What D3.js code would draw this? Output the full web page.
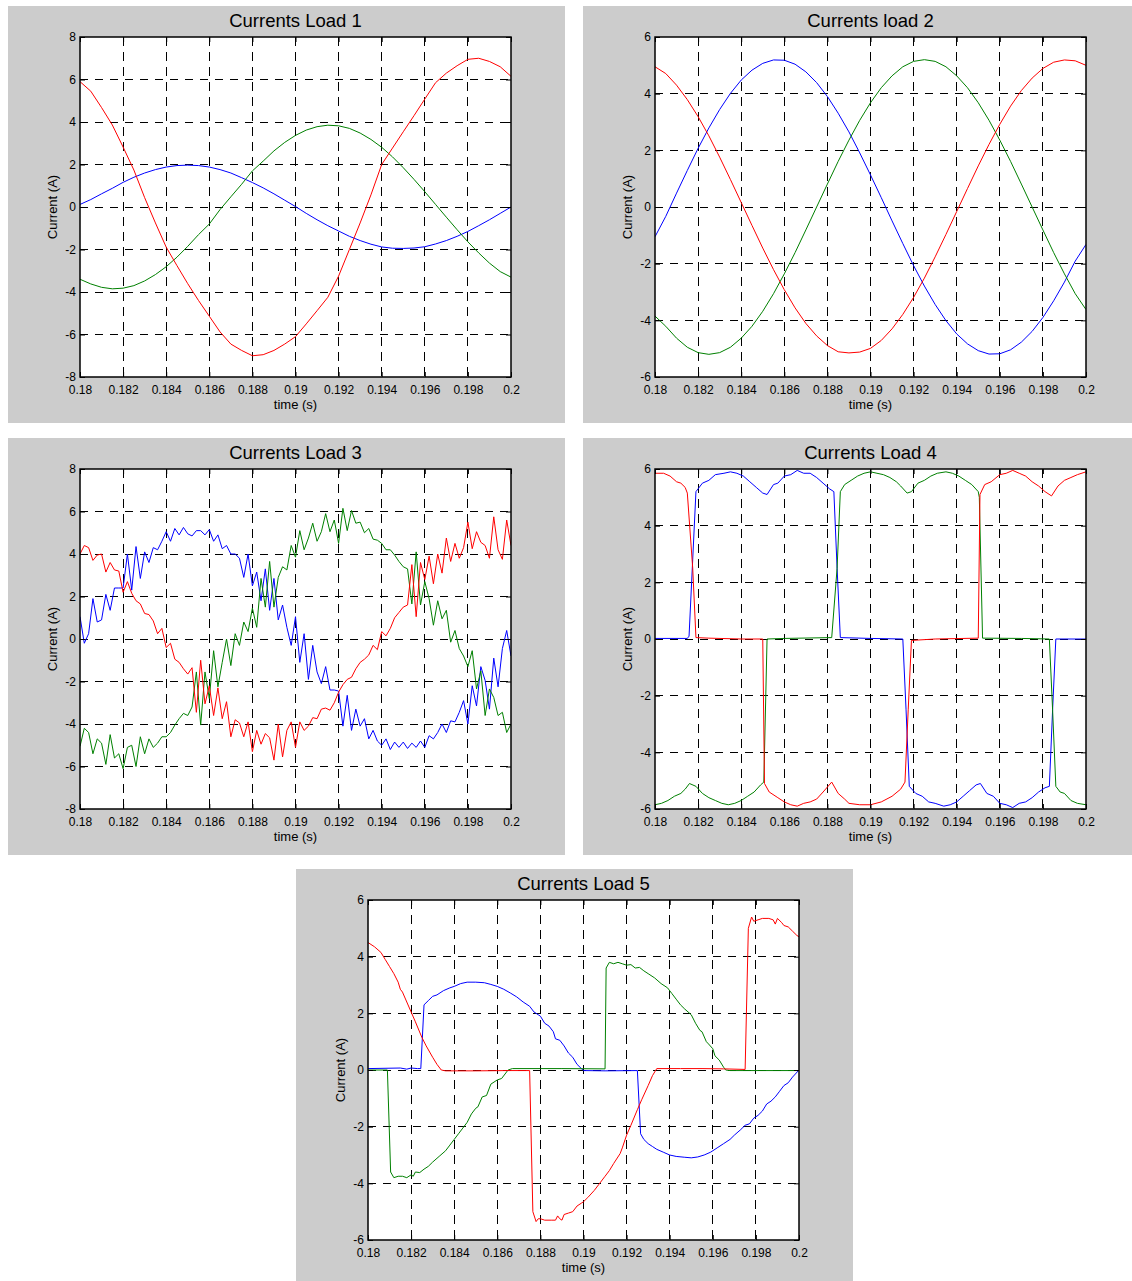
<!DOCTYPE html>
<html>
<head>
<meta charset="utf-8">
<script src="https://cdn.jsdelivr.net/npm/d3@7"></script>
<style>
  html, body { margin: 0; padding: 0; background: #fff; }
  svg { display: block; }
</style>
</head>
<body>
<svg id="fig" width="1132" height="1281"></svg>
<script>
// ---- axis ticks ----
const timeTicks = [0.18, 0.182, 0.184, 0.186, 0.188, 0.19, 0.192, 0.194, 0.196, 0.198, 0.2];
const timeTickLabels = ["0.18", "0.182", "0.184", "0.186", "0.188", "0.19", "0.192", "0.194", "0.196", "0.198", "0.2"];
const currentTicks8 = [-8, -6, -4, -2, 0, 2, 4, 6, 8];
const currentTickLabels8 = ["-8", "-6", "-4", "-2", "0", "2", "4", "6", "8"];
const currentTicks6 = [-6, -4, -2, 0, 2, 4, 6];
const currentTickLabels6 = ["-6", "-4", "-2", "0", "2", "4", "6"];

// sample instants: 0.5 ms grid for loads 1-2, 0.2 ms grid for load 3
const coarseTimes = d3.range(41).map(i => 0.18 + i * 0.0005);
const fineTimes = d3.range(101).map(i => 0.18 + i * 0.0002);

// ---- Load 1 phase currents (A), 0.5 ms grid ----
const load1Blue = [0.12, 0.35, 0.62, 0.88, 1.16, 1.40, 1.60, 1.76, 1.88, 1.95, 1.97, 1.95, 1.88, 1.76, 1.60, 1.38, 1.15, 0.90, 0.62, 0.32, 0.02, -0.30, -0.60, -0.88, -1.13, -1.38, -1.58, -1.75, -1.88, -1.94, -1.95, -1.93, -1.87, -1.74, -1.58, -1.38, -1.15, -0.88, -0.60, -0.30, 0.0];
const load1Green = [-3.40, -3.62, -3.78, -3.85, -3.82, -3.70, -3.48, -3.18, -2.81, -2.36, -1.85, -1.30, -0.80, -0.12, 0.48, 1.07, 1.70, 2.16, 2.64, 3.04, 3.37, 3.62, 3.78, 3.85, 3.82, 3.70, 3.48, 3.18, 2.81, 2.36, 1.85, 1.30, 0.72, 0.12, -0.48, -1.07, -1.64, -2.16, -2.64, -3.04, -3.30];
const load1Red = [5.90, 5.45, 4.68, 3.86, 2.82, 1.74, 0.44, -0.75, -1.89, -2.76, -3.61, -4.40, -5.14, -5.88, -6.45, -6.75, -7.00, -6.95, -6.75, -6.45, -6.10, -5.50, -4.88, -4.25, -3.25, -2.00, -0.75, 0.57, 2.00, 2.77, 3.54, 4.30, 5.08, 5.85, 6.30, 6.65, 6.95, 7.00, 6.85, 6.60, 6.15];

// ---- Load 2 phase currents (A), 0.5 ms grid ----
const load2Blue = [-1.05, -0.33, 0.49, 1.29, 2.07, 2.79, 3.44, 4.01, 4.48, 4.83, 5.07, 5.19, 5.18, 5.04, 4.77, 4.39, 3.90, 3.31, 2.65, 1.91, 1.13, 0.33, -0.49, -1.29, -2.07, -2.79, -3.44, -4.01, -4.48, -4.83, -5.07, -5.19, -5.18, -5.04, -4.77, -4.39, -3.90, -3.31, -2.65, -1.91, -1.32];
const load2Green = [-3.85, -4.21, -4.63, -4.95, -5.14, -5.20, -5.14, -4.95, -4.63, -4.21, -3.68, -3.06, -2.36, -1.61, -0.81, 0.0, 0.81, 1.61, 2.36, 3.06, 3.68, 4.21, 4.63, 4.95, 5.14, 5.20, 5.14, 4.95, 4.63, 4.21, 3.68, 3.06, 2.36, 1.61, 0.81, 0.0, -0.81, -1.61, -2.36, -3.06, -3.62];
const load2Red = [4.95, 4.71, 4.30, 3.79, 3.19, 2.51, 1.76, 0.97, 0.16, -0.65, -1.45, -2.21, -2.92, -3.56, -4.11, -4.55, -4.89, -5.11, -5.15, -5.12, -4.99, -4.71, -4.30, -3.79, -3.19, -2.51, -1.76, -0.97, -0.16, 0.65, 1.45, 2.21, 2.92, 3.56, 4.11, 4.55, 4.89, 5.11, 5.19, 5.16, 5.00];

// ---- Load 3 phase currents (A), 0.2 ms grid ----
const load3Blue = [1.05, -0.2, 0.25, 1.9, 0.8, 0.9, 2.1, 1.35, 2.4, 2.4, 2.4, 4.0, 2.3, 4.35, 2.85, 4.1, 3.6, 4.3, 4.2, 4.6, 5.05, 4.6, 5.2, 4.9, 5.25, 4.95, 4.85, 5.1, 5.1, 4.9, 5.15, 4.6, 4.9, 4.25, 4.4, 4.0, 4.0, 3.8, 2.9, 4.0, 2.5, 3.15, 1.8, 3.3, 1.35, 2.85, 0.9, 1.6, 0.55, -0.3, 1.05, -1.1, 0.25, -1.9, -0.3, -1.55, -2.1, -1.3, -2.4, -2.4, -2.45, -4.1, -2.65, -4.3, -3.3, -4.1, -3.75, -4.7, -4.3, -4.8, -5.0, -4.7, -5.2, -4.85, -5.1, -4.85, -5.15, -4.9, -5.1, -4.8, -5.1, -4.55, -4.7, -4.4, -4.0, -4.4, -3.85, -3.9, -3.45, -2.9, -4.0, -2.2, -3.15, -1.3, -1.95, -3.3, -0.9, -2.25, -0.45, 0.4, -0.8];
const load3Green = [-5.05, -4.2, -4.4, -5.4, -4.7, -4.9, -5.9, -4.5, -5.6, -5.4, -6.1, -5.1, -5.0, -6.0, -4.6, -5.4, -4.7, -5.1, -4.9, -4.6, -4.6, -4.4, -4.05, -3.75, -3.5, -3.6, -3.2, -1.55, -4.05, -1.55, -2.8, -0.55, -2.25, -1.1, 0.0, -1.25, 0.25, -0.3, 0.8, 0.35, 1.45, 0.55, 2.85, 1.5, 3.65, 1.5, 2.9, 3.4, 3.25, 4.4, 3.85, 5.1, 4.2, 4.75, 5.45, 4.6, 5.05, 5.9, 5.05, 5.6, 4.5, 6.15, 5.1, 6.05, 5.45, 5.5, 5.0, 5.2, 4.7, 4.65, 4.5, 4.2, 4.2, 3.95, 3.65, 3.4, 3.3, 1.65, 4.1, 1.6, 2.7, 1.9, 0.65, 1.8, 0.95, 1.35, -0.15, 0.4, -0.45, -0.8, -1.3, -0.55, -2.35, -1.5, -3.6, -2.35, -2.75, -3.6, -3.45, -4.4, -4.0];
const load3Red = [4.0, 4.4, 4.3, 3.7, 3.95, 4.0, 3.15, 3.6, 3.25, 3.2, 2.2, 2.7, 2.15, 1.8, 1.65, 1.2, 1.15, 0.85, 0.25, 0.5, -0.4, -0.2, -0.95, -1.1, -1.4, -1.65, -1.35, -3.45, -1.0, -3.05, -2.2, -3.6, -2.3, -3.75, -2.95, -4.6, -3.8, -3.95, -4.6, -3.9, -5.3, -4.3, -4.95, -4.45, -4.65, -5.7, -4.0, -5.55, -4.3, -3.9, -5.1, -3.9, -4.3, -4.1, -3.7, -3.75, -3.3, -3.25, -3.35, -3.0, -2.5, -2.15, -1.9, -1.8, -1.4, -1.1, -0.95, -0.75, -0.3, -0.5, 0.35, 0.15, 0.5, 1.0, 1.25, 1.5, 1.6, 3.5, 1.05, 3.6, 2.8, 3.9, 2.6, 4.0, 3.1, 4.75, 3.65, 4.5, 3.8, 4.3, 5.5, 4.25, 5.05, 4.55, 4.4, 3.8, 5.75, 4.2, 3.75, 5.6, 4.4];

// ---- Load 4 phase currents, [time (s), current (A)] ----
const load4Blue = [[0.18, 0.02], [0.1815, 0.02], [0.18158, 0.1], [0.1819, 5.2], [0.1822, 5.5], [0.1825, 5.6], [0.1828, 5.8], [0.1832, 5.85], [0.1835, 5.9], [0.1838, 5.85], [0.1841, 5.75], [0.1844, 5.55], [0.1847, 5.35], [0.185, 5.15], [0.1852, 5.1], [0.1855, 5.45], [0.1857, 5.5], [0.186, 5.75], [0.1863, 5.8], [0.1866, 5.95], [0.1869, 5.85], [0.1872, 5.85], [0.1875, 5.7], [0.1878, 5.5], [0.1881, 5.3], [0.1883, 5.2], [0.18845, 2.5], [0.1886, 0.05], [0.19, 0.02], [0.1915, 0.0], [0.19165, -2.5], [0.1918, -5.2], [0.1921, -5.45], [0.1924, -5.55], [0.1927, -5.75], [0.193, -5.8], [0.1934, -5.9], [0.1937, -5.85], [0.194, -5.75], [0.1943, -5.55], [0.1946, -5.35], [0.1949, -5.15], [0.1951, -5.1], [0.1954, -5.45], [0.1957, -5.55], [0.196, -5.8], [0.1963, -5.85], [0.1966, -5.95], [0.1969, -5.8], [0.1972, -5.75], [0.1975, -5.6], [0.1978, -5.4], [0.1981, -5.25], [0.1983, -5.2], [0.19845, -2.5], [0.1986, 0.0], [0.2, 0.0]];
const load4Green = [[0.18, -5.85], [0.1803, -5.8], [0.1806, -5.7], [0.1809, -5.55], [0.1812, -5.45], [0.1814, -5.3], [0.1816, -5.1], [0.1819, -5.2], [0.1822, -5.45], [0.1825, -5.6], [0.1828, -5.7], [0.1831, -5.8], [0.1834, -5.85], [0.1837, -5.8], [0.184, -5.7], [0.1843, -5.55], [0.1846, -5.4], [0.1849, -5.15], [0.18505, -5.05], [0.1852, 0.0], [0.186, 0.02], [0.1882, 0.05], [0.18845, 2.5], [0.1886, 5.2], [0.1888, 5.45], [0.1891, 5.6], [0.1894, 5.75], [0.1897, 5.85], [0.19, 5.9], [0.1903, 5.85], [0.1906, 5.8], [0.1909, 5.7], [0.1912, 5.55], [0.1914, 5.4], [0.1917, 5.15], [0.1919, 5.2], [0.1922, 5.5], [0.1925, 5.6], [0.1928, 5.75], [0.1931, 5.85], [0.1935, 5.9], [0.1938, 5.85], [0.1941, 5.75], [0.1944, 5.6], [0.1947, 5.45], [0.195, 5.2], [0.19505, 5.0], [0.1952, 0.03], [0.197, 0.02], [0.1983, 0.0], [0.19845, -2.5], [0.1986, -5.2], [0.1988, -5.4], [0.199, -5.45], [0.1993, -5.7], [0.1996, -5.8], [0.2, -5.85]];
const load4Red = [[0.18, 5.85], [0.1804, 5.85], [0.1807, 5.75], [0.181, 5.55], [0.1812, 5.5], [0.1814, 5.35], [0.1815, 5.15], [0.18175, 2.5], [0.1819, 0.05], [0.1825, 0.03], [0.184, 0.0], [0.185, 0.0], [0.18508, -5.1], [0.1853, -5.4], [0.1857, -5.6], [0.186, -5.75], [0.1863, -5.85], [0.1866, -5.9], [0.1869, -5.8], [0.1872, -5.75], [0.1875, -5.65], [0.1878, -5.4], [0.1882, -5.05], [0.1885, -5.45], [0.1888, -5.65], [0.189, -5.8], [0.1895, -5.85], [0.19, -5.85], [0.1905, -5.75], [0.191, -5.55], [0.1914, -5.3], [0.1916, -5.05], [0.19175, -2.5], [0.1919, -0.05], [0.193, 0.0], [0.195, 0.03], [0.19508, 5.1], [0.1953, 5.45], [0.1956, 5.55], [0.196, 5.8], [0.1963, 5.85], [0.1966, 5.95], [0.1969, 5.85], [0.1972, 5.75], [0.1975, 5.55], [0.1978, 5.4], [0.1981, 5.2], [0.1984, 5.05], [0.1987, 5.4], [0.199, 5.6], [0.1993, 5.7], [0.1996, 5.8], [0.2, 5.9]];

// ---- Load 5 phase currents, [time (s), current (A)] ----
const load5Blue = [[0.18, 0.05], [0.1815, 0.07], [0.1818, 0.03], [0.182, 0.07], [0.1823, 0.05], [0.18245, 0.05], [0.1826, 2.3], [0.1828, 2.45], [0.183, 2.6], [0.1832, 2.65], [0.1835, 2.8], [0.1838, 2.9], [0.184, 2.95], [0.1843, 3.05], [0.1846, 3.1], [0.185, 3.1], [0.1854, 3.08], [0.1857, 3.02], [0.186, 2.95], [0.1863, 2.85], [0.1866, 2.72], [0.1869, 2.58], [0.1872, 2.4], [0.1875, 2.25], [0.1877, 2.05], [0.1879, 1.95], [0.188, 1.9], [0.1882, 1.65], [0.1884, 1.55], [0.1886, 1.35], [0.1887, 1.1], [0.1889, 1.05], [0.1891, 0.85], [0.1893, 0.6], [0.1895, 0.45], [0.1897, 0.2], [0.1899, 0.05], [0.19, -0.02], [0.191, -0.03], [0.1925, -0.02], [0.19265, -2.25], [0.1928, -2.45], [0.193, -2.6], [0.1932, -2.7], [0.1934, -2.8], [0.1937, -2.9], [0.194, -3.0], [0.1943, -3.05], [0.1947, -3.08], [0.195, -3.1], [0.1953, -3.07], [0.1956, -3.0], [0.1959, -2.9], [0.1962, -2.75], [0.1965, -2.6], [0.1968, -2.45], [0.197, -2.3], [0.1973, -2.1], [0.1975, -1.95], [0.1977, -1.9], [0.1979, -1.7], [0.1981, -1.6], [0.1983, -1.45], [0.1985, -1.2], [0.1987, -1.1], [0.1989, -0.95], [0.1991, -0.75], [0.1993, -0.55], [0.1995, -0.45], [0.1997, -0.25], [0.2, 0.0]];
const load5Green = [[0.18, 0.0], [0.1809, 0.0], [0.18105, -3.6], [0.1812, -3.8], [0.1814, -3.75], [0.1816, -3.75], [0.1818, -3.8], [0.182, -3.7], [0.1821, -3.75], [0.1822, -3.6], [0.1824, -3.62], [0.1826, -3.5], [0.1828, -3.4], [0.183, -3.25], [0.1833, -3.05], [0.1836, -2.85], [0.1838, -2.65], [0.184, -2.45], [0.1842, -2.25], [0.1844, -2.05], [0.1846, -1.85], [0.1848, -1.55], [0.185, -1.35], [0.1851, -1.3], [0.1853, -0.95], [0.1855, -0.9], [0.1857, -0.5], [0.186, -0.35], [0.1862, -0.3], [0.1865, 0.0], [0.1867, 0.05], [0.188, 0.05], [0.189, 0.05], [0.191, 0.04], [0.19105, 3.6], [0.1912, 3.8], [0.1914, 3.75], [0.1916, 3.8], [0.1918, 3.75], [0.192, 3.7], [0.1922, 3.72], [0.1924, 3.6], [0.1926, 3.62], [0.1928, 3.5], [0.193, 3.4], [0.1933, 3.25], [0.1936, 3.05], [0.1939, 2.9], [0.1941, 2.7], [0.1943, 2.5], [0.1945, 2.3], [0.1947, 2.15], [0.195, 1.95], [0.1952, 1.65], [0.1954, 1.4], [0.1955, 1.35], [0.1957, 1.0], [0.1958, 0.92], [0.196, 0.75], [0.1961, 0.5], [0.1963, 0.35], [0.1965, 0.1], [0.1966, 0.0], [0.1968, -0.02], [0.198, -0.02], [0.2, -0.02]];
const load5Red = [[0.18, 4.5], [0.1803, 4.35], [0.1806, 4.15], [0.1808, 3.9], [0.181, 3.65], [0.1812, 3.4], [0.1814, 3.1], [0.1815, 2.85], [0.1816, 2.75], [0.1818, 2.4], [0.182, 2.05], [0.1822, 1.7], [0.1825, 1.15], [0.1827, 0.85], [0.183, 0.45], [0.1832, 0.2], [0.1834, 0.0], [0.1836, -0.03], [0.185, -0.03], [0.1865, -0.02], [0.1875, -0.02], [0.18765, -5.0], [0.1878, -5.35], [0.1879, -5.25], [0.188, -5.25], [0.1882, -5.3], [0.1885, -5.3], [0.1887, -5.3], [0.1888, -5.15], [0.1889, -5.25], [0.189, -5.3], [0.1891, -5.1], [0.1893, -5.05], [0.1895, -5.0], [0.1897, -4.8], [0.1899, -4.7], [0.19, -4.65], [0.1902, -4.5], [0.1905, -4.25], [0.1907, -4.05], [0.191, -3.75], [0.1912, -3.55], [0.1914, -3.3], [0.1917, -2.95], [0.1918, -2.75], [0.192, -2.3], [0.1922, -1.95], [0.1925, -1.4], [0.1927, -1.05], [0.193, -0.55], [0.1932, -0.2], [0.1934, 0.05], [0.1945, 0.05], [0.1955, 0.05], [0.1965, 0.04], [0.1975, 0.02], [0.19765, 5.0], [0.1978, 5.4], [0.1979, 5.25], [0.1981, 5.3], [0.1983, 5.35], [0.1986, 5.35], [0.1988, 5.3], [0.1989, 5.15], [0.199, 5.35], [0.1992, 5.2], [0.1993, 5.1], [0.1995, 5.05], [0.1997, 4.9], [0.1999, 4.75], [0.2, 4.7]];

// ---- drawing ----
const FONT = "'Liberation Sans', Arial, Helvetica, sans-serif";
const phaseColors = { blue: "#0000ff", green: "#008000", red: "#ff0000" };

const onGrid = (times, values) => values.map((v, i) => [times[i], v]);

const panels = [
  { title: "Currents Load 1", box: [8, 6, 557, 417], yTicks: currentTicks8, yLabels: currentTickLabels8,
    series: [["blue", onGrid(coarseTimes, load1Blue)], ["green", onGrid(coarseTimes, load1Green)], ["red", onGrid(coarseTimes, load1Red)]] },
  { title: "Currents load 2", box: [583, 6, 549, 417], yTicks: currentTicks6, yLabels: currentTickLabels6,
    series: [["blue", onGrid(coarseTimes, load2Blue)], ["green", onGrid(coarseTimes, load2Green)], ["red", onGrid(coarseTimes, load2Red)]] },
  { title: "Currents Load 3", box: [8, 438, 557, 417], yTicks: currentTicks8, yLabels: currentTickLabels8,
    series: [["blue", onGrid(fineTimes, load3Blue)], ["green", onGrid(fineTimes, load3Green)], ["red", onGrid(fineTimes, load3Red)]] },
  { title: "Currents Load 4", box: [583, 438, 549, 417], yTicks: currentTicks6, yLabels: currentTickLabels6,
    series: [["blue", load4Blue], ["green", load4Green], ["red", load4Red]] },
  { title: "Currents Load 5", box: [296, 869, 557, 412], yTicks: currentTicks6, yLabels: currentTickLabels6,
    series: [["blue", load5Blue], ["green", load5Green], ["red", load5Red]] }
];

const svg = d3.select("#fig");

panels.forEach((p, idx) => {
  const [bx, by, bw, bh] = p.box;
  const left = bx + 72, top = by + 31, width = 431, height = 340;
  const right = left + width, bottom = top + height;

  const x = d3.scaleLinear().domain([0.18, 0.2]).range([left, right]);
  const y = d3.scaleLinear().domain([p.yTicks[0], p.yTicks[p.yTicks.length - 1]]).range([bottom, top]);

  const g = svg.append("g");

  // figure background and white axes area
  g.append("rect").attr("x", bx).attr("y", by).attr("width", bw).attr("height", bh).attr("fill", "#cccccc");
  g.append("rect").attr("x", left).attr("y", top).attr("width", width).attr("height", height).attr("fill", "#ffffff");

  // dashed grid
  const grid = g.append("g").attr("stroke", "#000").attr("stroke-width", 1).attr("shape-rendering", "crispEdges");
  grid.selectAll("line.v").data(timeTicks.slice(1, -1)).join("line")
    .attr("x1", d => x(d)).attr("x2", d => x(d)).attr("y1", top).attr("y2", bottom)
    .attr("stroke-dasharray", "9,6");
  grid.selectAll("line.h").data(p.yTicks.slice(1, -1)).join("line")
    .attr("x1", left).attr("x2", right).attr("y1", d => y(d)).attr("y2", d => y(d))
    .attr("stroke-dasharray", "7.5,7.5");

  // traces
  const clipId = "clip" + idx;
  g.append("clipPath").attr("id", clipId).append("rect")
    .attr("x", left).attr("y", top).attr("width", width).attr("height", height);
  const line = d3.line().x(d => x(d[0])).y(d => y(d[1]));
  g.append("g").attr("clip-path", `url(#${clipId})`)
    .selectAll("path").data(p.series).join("path")
    .attr("d", d => line(d[1]))
    .attr("fill", "none")
    .attr("stroke", d => phaseColors[d[0]])
    .attr("stroke-width", 1)
    .attr("stroke-linejoin", "round");

  // axes with inward ticks on all four sides
  const styleAxis = sel => {
    sel.select(".domain").remove();
    sel.selectAll(".tick line").attr("stroke", "#000").attr("stroke-width", 1);
    sel.selectAll(".tick text").attr("fill", "#000").style("font-family", FONT).style("font-size", "12px");
  };
  g.append("g").attr("transform", `translate(0,${bottom})`)
    .call(d3.axisBottom(x).tickValues(timeTicks).tickFormat((d, i) => timeTickLabels[i]).tickSizeInner(-5).tickSizeOuter(0).tickPadding(8.5))
    .call(styleAxis);
  g.append("g").attr("transform", `translate(0,${top})`)
    .call(d3.axisTop(x).tickValues(timeTicks).tickFormat("").tickSizeInner(-5).tickSizeOuter(0))
    .call(styleAxis);
  g.append("g").attr("transform", `translate(${left},0)`)
    .call(d3.axisLeft(y).tickValues(p.yTicks).tickFormat((d, i) => p.yLabels[i]).tickSizeInner(-5).tickSizeOuter(0).tickPadding(4))
    .call(styleAxis);
  g.append("g").attr("transform", `translate(${right},0)`)
    .call(d3.axisRight(y).tickValues(p.yTicks).tickFormat("").tickSizeInner(-5).tickSizeOuter(0))
    .call(styleAxis);

  // axes box
  g.append("rect").attr("x", left).attr("y", top).attr("width", width).attr("height", height)
    .attr("fill", "none").attr("stroke", "#000").attr("stroke-width", 1.5);

  // title and axis labels
  g.append("text").attr("x", (left + right) / 2).attr("y", top - 10.5)
    .attr("text-anchor", "middle").style("font-family", FONT).style("font-size", "18.5px").attr("fill", "#000")
    .text(p.title);
  g.append("text").attr("x", (left + right) / 2).attr("y", bottom + 31.5)
    .attr("text-anchor", "middle").style("font-family", FONT).style("font-size", "13px").attr("fill", "#000")
    .text("time (s)");
  g.append("text").attr("transform", `translate(${left - 23.5},${(top + bottom) / 2}) rotate(-90)`)
    .attr("text-anchor", "middle").style("font-family", FONT).style("font-size", "13px").attr("fill", "#000")
    .text("Current (A)");
});
</script>
</body>
</html>
